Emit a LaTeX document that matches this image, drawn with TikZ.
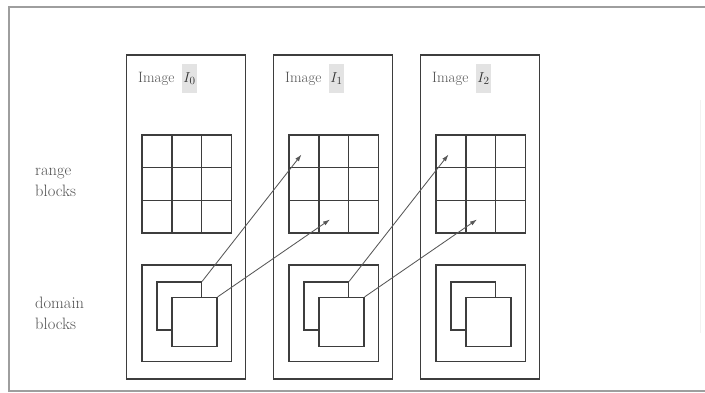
\documentclass[tikz,border=0pt]{standalone}
\usetikzlibrary{arrows.meta}
\begin{document}
\begin{tikzpicture}[x=1pt, y=-1pt,
  font=\fontsize{15}{21}\selectfont,
  line/.style={draw=black!76, line width=1.25pt},
  panel/.style={line, rectangle, inner sep=0pt, minimum width=119pt, minimum height=324pt},
  gridbox/.style={line, rectangle, inner sep=0pt, minimum width=89.5pt, minimum height=98pt},
  domainbox/.style={line, rectangle, inner sep=0pt, minimum width=89.5pt, minimum height=96.5pt},
  backsq/.style={line, rectangle, inner sep=0pt, minimum width=44.5pt, minimum height=48pt},
  frontsq/.style={line, fill=white, rectangle, inner sep=0pt, minimum width=45pt, minimum height=49pt},
  mapping/.style={draw=black!66, line width=0.85pt, -{Latex[length=7pt,width=4.5pt]}},
  sidelabel/.style={align=left, anchor=west, inner sep=0pt, text=black!68,
    font=\fontsize{16.5}{21}\selectfont},
  imgname/.style={anchor=base west, inner sep=0pt, text=black!68},
  imgsym/.style={anchor=west, fill=black!11, inner xsep=1.5pt, inner ysep=2pt,
    minimum height=29pt, text=black!80},
  frame/.style={draw=black!38, line width=1.8pt}
]
\useasboundingbox (0,0) rectangle (705,393);

% outer frame (open to the right)
\draw[frame] (706,7) -- (9,7) -- (9,391) -- (706,391);
\draw[draw=black!5, line width=1pt] (700,100) -- (700,333);

% row labels
\node[sidelabel] (rlab) at (35,182) {range\\blocks};
\node[sidelabel] (dlab) at (35,313) {domain\\blocks};

% the three image columns
\foreach \i/\x in {0/126.5, 1/273.5, 2/420.5}{
  \node[panel] (p\i) at (\x+59.5,217) {};
  \node[imgname] (n\i) at (\x+11.5,83) {Image};
  \node[imgsym] (s\i) at ([xshift=7pt,yshift=4pt]n\i.base east) {$I_\i$};
  % range blocks: 3x3 grid
  \node[gridbox] (g\i) at (\x+60.25,184) {};
  \draw[line] (\x+45.5,135) -- (\x+45.5,233);
  \draw[line] (\x+75.3,135) -- (\x+75.3,233);
  \draw[line] (\x+15.5,167.7) -- (\x+105,167.7);
  \draw[line] (\x+15.5,200.3) -- (\x+105,200.3);
  % domain blocks: two overlapping squares in a frame
  \node[domainbox] (d\i) at (\x+60.25,313.25) {};
  \node[backsq] (b\i) at (\x+52.75,306) {};
  \node[frontsq] (f\i) at (\x+68,322) {};
  % arrow targets inside the grid
  \coordinate (ta\i) at (\x+28,154.5);
  \coordinate (tb\i) at (\x+56.5,219.5);
}

% domain blocks mapped onto range blocks of the next image
\draw[mapping] (b0.north east) -- (ta1);
\draw[mapping] (f0.north east) -- (tb1);
\draw[mapping] (b1.north east) -- (ta2);
\draw[mapping] (f1.north east) -- (tb2);
\end{tikzpicture}
\end{document}
